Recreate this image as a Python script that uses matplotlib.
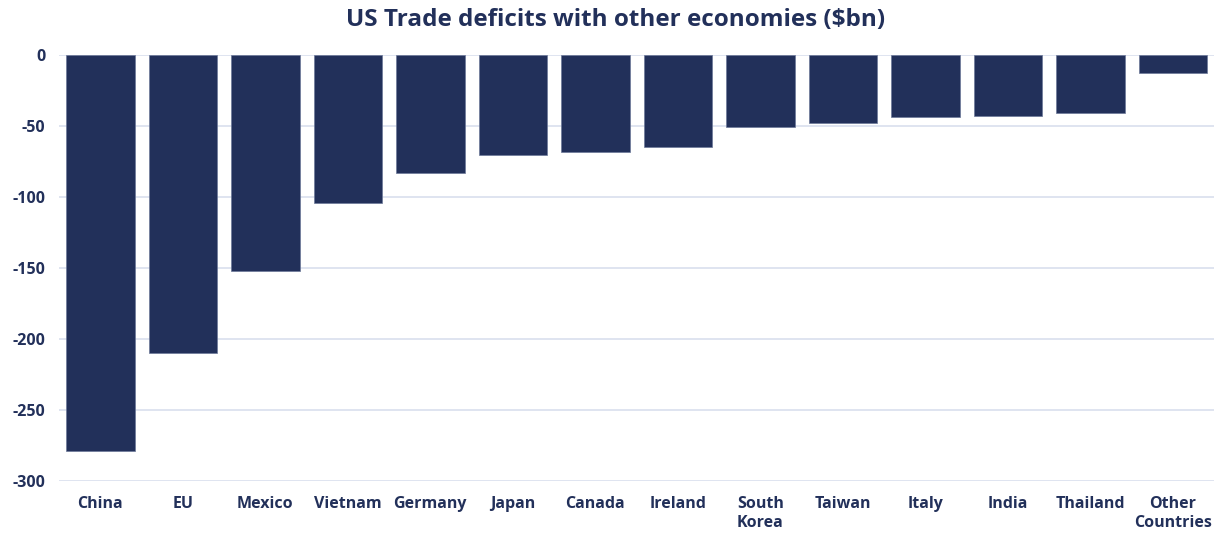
import matplotlib
matplotlib.use("Agg")
import matplotlib.pyplot as plt

# -------------------------------------------------------
# DATOS
# -------------------------------------------------------
countries = ["China", "EU", "Mexico", "Vietnam", "Germany", "Japan", "Canada",
             "Ireland", "South\nKorea", "Taiwan", "Italy", "India", "Thailand",
             "Other\nCountries"]
deficits = [-279, -210, -152, -104.5, -83, -70.5, -68, -65, -51, -48, -44, -43,
            -40.5, -13]
yticks = [0, -50, -100, -150, -200, -250, -300]

NAVY = "#22305A"
GRID = "#D9DFEE"

plt.rcParams['font.family'] = ['Open Sans', 'DejaVu Sans']

fig = plt.figure(figsize=(12.15, 5.33), dpi=100)
ax = fig.add_axes([0.0486, 0.0976, 0.9506, 0.7992])

x = range(len(countries))
ax.bar(x, deficits, width=0.83, color=NAVY, edgecolor="#6C7898", linewidth=0.5,
       zorder=3)

ax.set_xlim(-0.5, len(countries) - 0.5)
ax.set_ylim(-300, 0)
ax.set_yticks(yticks)
ax.set_yticklabels([str(v) for v in yticks])
ax.set_xticks(list(x))
ax.set_xticklabels(countries, linespacing=1.25)

# rejilla horizontal y sin bordes
ax.grid(axis='y', color=GRID, linewidth=1.2, zorder=0)
ax.set_axisbelow(True)
for s in ax.spines.values():
    s.set_visible(False)
ax.tick_params(axis='both', length=0, colors=NAVY, labelsize=11.5)
ax.tick_params(axis='x', pad=11)
ax.tick_params(axis='y', pad=10)
for lbl in ax.get_xticklabels() + ax.get_yticklabels():
    lbl.set_fontweight('bold')

fig.text(0.507, 0.962, "US Trade deficits with other economies ($bn)",
         ha='center', va='center', fontsize=17.5, fontweight='bold', color=NAVY)

fig.savefig("out.png", dpi=100, facecolor="white")
